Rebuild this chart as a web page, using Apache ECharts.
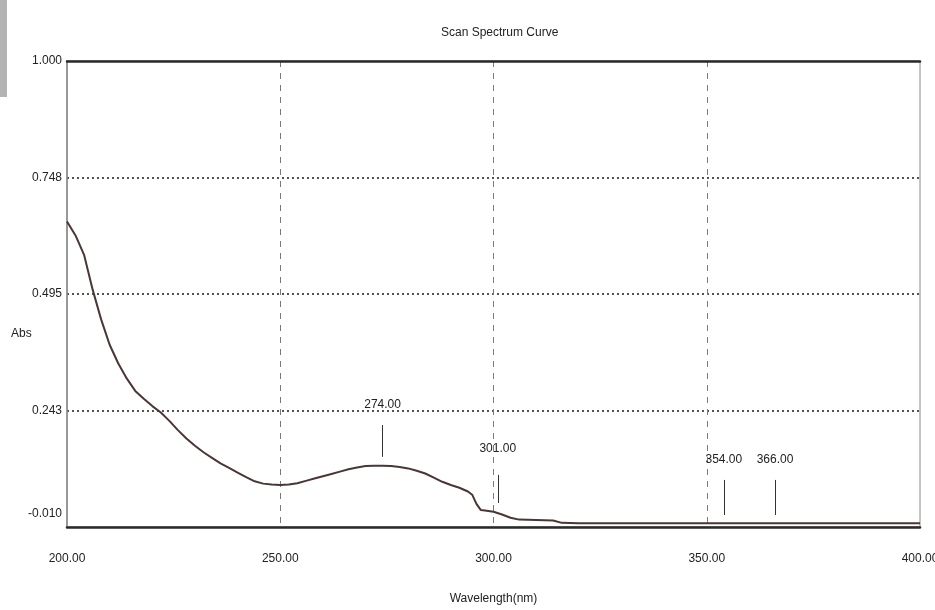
<!DOCTYPE html>
<html>
<head>
<meta charset="utf-8">
<script src="https://cdn.jsdelivr.net/npm/echarts@6/dist/echarts.min.js"></script>
<style>html,body{margin:0;padding:0;background:#fff}#c{width:935px;height:610px}</style>
</head>
<body>
<div id="c"></div>
<script>
// Wavelength (nm) and absorbance
var wavelengths = [200,202,204,206,208,210,212,214,216,218,220,222,224,226,228,230,232,234,236,238,240,242,244,246,248,250,252,254,256,258,260,262,264,266,268,270,272,274,276,278,280,282,284,286,288,290,292,294,295,296,297,298,300,302,304,306,310,314,316,320,340,360,380,400];
var absorbance  = [0.652,0.622,0.580,0.505,0.440,0.385,0.345,0.312,0.285,0.268,0.252,0.238,0.220,0.200,0.182,0.166,0.152,0.140,0.128,0.118,0.108,0.098,0.089,0.084,0.082,0.081,0.082,0.085,0.090,0.095,0.100,0.105,0.110,0.115,0.119,0.122,0.123,0.123,0.122,0.120,0.117,0.112,0.106,0.097,0.088,0.081,0.075,0.067,0.060,0.040,0.027,0.026,0.023,0.017,0.010,0.006,0.005,0.004,-0.001,-0.002,-0.002,-0.002,-0.002,-0.002];

var xTickLabels = ['200.00','250.00','300.00','350.00','400.00'];
var yTickValues = [-0.010, 0.2425, 0.495, 0.7475, 1.000];
var yTickLabels = ['-0.010','0.243','0.495','0.748','1.000'];

// Peak markers: wavelength, marker bottom and top (abs units), label
var peakWavelengths = [274, 301, 354, 366];
var peakLabels = ['274.00','301.00','354.00','366.00'];
var peakBottoms = [0.142, 0.042, 0.016, 0.016];
var peakTops = [0.211, 0.103, 0.092, 0.092];
var peakLabelGaps = [14, 20, 14, 14];

var FONT = "'Liberation Sans', Arial, sans-serif";

var seriesData = wavelengths.map(function (w, i) { return [w, absorbance[i]]; });
var markData = peakWavelengths.map(function (w, i) {
  return [
    { coord: [w, peakBottoms[i]] },
    { coord: [w, peakTops[i]], label: { formatter: peakLabels[i], distance: peakLabelGaps[i] } }
  ];
});

var chart = echarts.init(document.getElementById('c'), null, { renderer: 'canvas' });
chart.setOption({
  backgroundColor: '#ffffff',
  animation: false,
  title: {
    text: 'Scan Spectrum Curve',
    left: 436,
    top: 22,
    textStyle: { fontFamily: FONT, fontSize: 12, fontWeight: 'normal', color: '#222' }
  },
  graphic: [{
    type: 'rect', left: 0, top: 0, shape: { width: 7, height: 97 },
    style: { fill: '#b3b3b3' }
  }, {
    type: 'text', left: 11, top: 328,
    style: { text: 'Abs', font: "12px 'Liberation Sans', Arial, sans-serif", fill: '#222' }
  }],
  grid: {
    left: 67, right: 15, top: 61, bottom: 83,
    containLabel: false, outerBoundsMode: 'none',
    show: true, borderColor: '#8a8a8a', borderWidth: 1
  },
  xAxis: [{
    type: 'value', min: 200, max: 400, interval: 50,
    name: 'Wavelength(nm)', nameLocation: 'middle', nameGap: 66,
    nameTextStyle: { fontFamily: FONT, fontSize: 12, color: '#222' },
    axisLine: { show: true, onZero: false, lineStyle: { color: '#2a2a2a', width: 2.5 } },
    axisTick: { show: false },
    axisLabel: {
      margin: 26, fontFamily: FONT, fontSize: 12, color: '#222',
      formatter: function (v) { var i = Math.round((v - 200) / 50); return xTickLabels[i] || ''; }
    },
    splitLine: { show: true, showMinLine: false, showMaxLine: false,
      lineStyle: { color: '#7a7a7a', type: [6, 6], width: 1 } }
  }, {
    type: 'value', min: 200, max: 400, position: 'top',
    axisLine: { show: true, onZero: false, lineStyle: { color: '#2a2a2a', width: 2.5 } },
    axisTick: { show: false }, axisLabel: { show: false }, splitLine: { show: false }
  }],
  yAxis: {
    type: 'value', min: -0.010, max: 1.000, interval: 0.2525,
    axisLine: { show: true, onZero: false, lineStyle: { color: '#8a8a8a', width: 1.5 } },
    axisTick: { show: false },
    axisLabel: {
      margin: 5, fontFamily: FONT, fontSize: 12, color: '#222',
      formatter: function (v) {
        for (var i = 0; i < yTickValues.length; i++) {
          if (Math.abs(v - yTickValues[i]) < 1e-4) return i === 0 ? '{low|' + yTickLabels[i] + '}' : yTickLabels[i];
        }
        return '';
      },
      rich: { low: { fontFamily: FONT, fontSize: 12, color: '#222', padding: [0, 0, 26, 0] } }
    },
    splitLine: { show: true, showMinLine: false, showMaxLine: false,
      lineStyle: { color: '#1a1a1a', type: [2, 3], width: 1.5 } }
  },
  series: [{
    type: 'line',
    data: seriesData,
    showSymbol: false,
    smooth: false,
    lineStyle: { color: '#4b3636', width: 2 },
    markLine: {
      silent: true,
      symbol: 'none',
      lineStyle: { color: '#333', width: 1, type: 'solid' },
      label: { show: true, position: 'end', distance: 14, fontFamily: FONT, fontSize: 12, color: '#222' },
      data: markData
    }
  }]
});
</script>
</body>
</html>
